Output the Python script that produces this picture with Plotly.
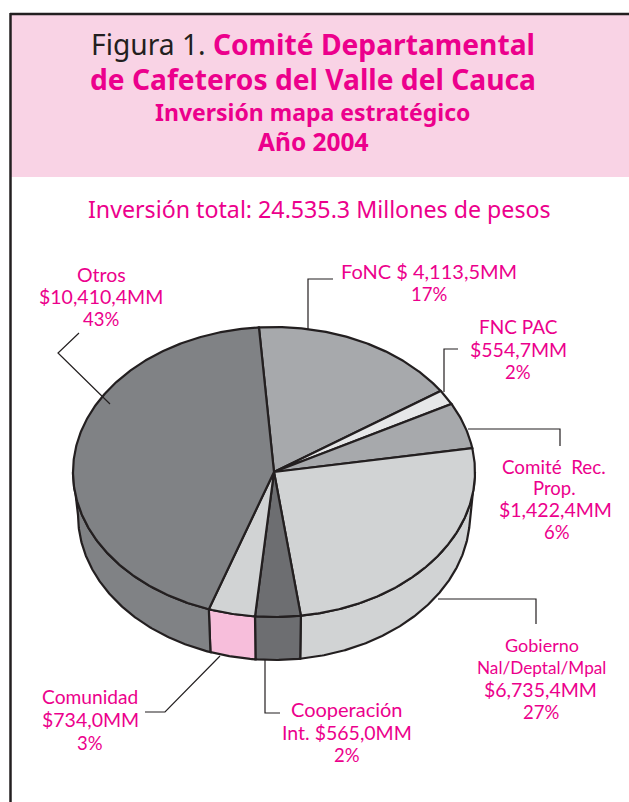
import numpy as np
import plotly.graph_objects as go

categorias = ["FoNC", "FNC PAC", "Comité Rec. Prop.", "Gobierno", "Cooperación", "Comunidad", "Otros"]
# amounts printed on the chart (millions of pesos)
valores_mm = [4113.5, 554.7, 1422.4, 6735.4, 565.0, 734.0, 10410.4]
# share of the circle each wedge occupies in the drawing (%)
porcion_dibujada = [16.75, 1.67, 5.14, 25.5, 3.64, 3.75, 43.55]
color_sup = ["#A7A9AC", "#E6E7E8", "#A7A9AC", "#D1D3D4", "#6D6E71", "#D1D3D4", "#808285"]
color_lat = ["#A7A9AC", "#E6E7E8", "#A7A9AC", "#D1D3D4", "#6D6E71", "#F7BEDB", "#808285"]

MAG = "#EC008C"
INK = "#231F20"
FT = "Noto Sans"
FL = "Lato"
CX, CY, RX, RY, DEPTH, RX_B = 274, 472, 201, 145, 43, 196
START = 94.3


def arc(a, b, dy=0.0, rx=RX):
    t = np.radians(np.linspace(a, b, max(3, int(abs(b - a) * 2))))
    return CX + rx * np.cos(t), CY + dy - RY * np.sin(t)


fig = go.Figure()
a = START
wedges = []
for p in porcion_dibujada:
    b = a - p * 3.6
    wedges.append((a, b))
    a = b

# side wall (only the front half of the cylinder is visible)
for (a, b), c in zip(wedges, color_lat):
    hi, lo = min(a, 0), max(b, -180)
    if hi <= lo:
        continue
    x1, y1 = arc(hi, lo)
    x2, y2 = arc(lo, hi, DEPTH, RX_B)
    fig.add_trace(go.Scatter(x=np.r_[x1, x2, x1[0]], y=np.r_[y1, y2, y1[0]], mode="lines", fill="toself",
                             fillcolor=c, line=dict(color=INK, width=2.2), hoverinfo="skip", showlegend=False))

# top face
for (a, b), c, name, v in zip(wedges, color_sup, categorias, valores_mm):
    x, y = arc(a, b)
    fig.add_trace(go.Scatter(x=np.r_[CX, x, CX], y=np.r_[CY, y, CY], mode="lines", fill="toself",
                             fillcolor=c, line=dict(color=INK, width=2.2), name=name,
                             text=f"{name}: {v:,.1f} MM", hoverinfo="text", showlegend=False))

# leader lines
lideres = [
    ([79, 58, 110], [333, 353, 404]),
    ([333, 308, 308], [279, 279, 329]),
    ([458, 444, 444], [349, 349, 392]),
    ([468, 560, 560], [429, 429, 446]),
    ([438, 536, 536], [599, 599, 624]),
    ([145, 165, 220], [712, 712, 656]),
    ([265, 265, 280], [660, 713, 713]),
]
for lx, ly in lideres:
    fig.add_trace(go.Scatter(x=lx, y=ly, mode="lines", line=dict(color=INK, width=1.2),
                             hoverinfo="skip", showlegend=False))

etiquetas = [
    ("Otros", 101, 274, 19.5), ("$10,410,4MM", 101, 296, 19.5), ("43%", 101, 319, 18.5),
    ("FoNC $ 4,113,5MM", 429, 271, 20), ("17%", 429, 294, 18.5),
    ("FNC PAC", 518, 326, 19), ("$554,7MM", 518, 349, 19.5), ("2%", 518, 372, 18.5),
    ("Comité  Rec.", 554, 466, 18.8), ("Prop.", 554, 488, 18.5), ("$1,422,4MM", 555, 509, 19.5), ("6%", 557, 532, 18.5),
    ("Gobierno", 542, 645, 18), ("Nal/Deptal/Mpal", 541, 667, 17.2), ("$6,735,4MM", 540, 689, 19.5), ("27%", 541, 712, 18.5),
    ("Comunidad", 90, 696, 19.2), ("$734,0MM", 90, 719, 19.5), ("3%", 90, 743, 18.5),
    ("Cooperación", 347, 709, 20), ("Int. $565,0MM", 347, 732, 19.5), ("2%", 347, 755, 18.5),
]
anns = [dict(x=x, y=y, text=t, xref="x", yref="y", showarrow=False, xanchor="center", yanchor="middle",
             font=dict(family=FL, size=s, color=MAG)) for t, x, y, s in etiquetas]

titulos = [
    (f"<span style='color:{INK}'>Figura 1. </span><b>Comité Departamental</b>", 313, 44, 28.2),
    ("<b>de Cafeteros del Valle del Cauca</b>", 313, 79, 28.2),
    ("<b>Inversión mapa estratégico</b>", 313, 112, 23),
    ("<b>Año 2004</b>", 313, 141, 24.5),
    ("Inversión total: 24.535.3 Millones de pesos", 319, 209, 23.2),
]
anns += [dict(x=x, y=y, text=t, xref="x", yref="y", showarrow=False, xanchor="center", yanchor="middle",
              font=dict(family=FT, size=s, color=MAG)) for t, x, y, s in titulos]

shapes = [
    dict(type="rect", xref="x", yref="y", x0=11, x1=629, y0=14, y1=177, fillcolor="#F9D3E5", line_width=0, layer="below"),
    dict(type="line", xref="x", yref="y", x0=10, x1=629, y0=14, y1=14, line=dict(color=INK, width=2.5)),
    dict(type="line", xref="x", yref="y", x0=10.5, x1=10.5, y0=13, y1=802, line=dict(color=INK, width=2.5)),
]

fig.update_layout(
    width=629, height=802, autosize=False, margin=dict(l=0, r=0, t=0, b=0),
    paper_bgcolor="white", plot_bgcolor="white", showlegend=False,
    xaxis=dict(range=[0, 629], visible=False, fixedrange=True),
    yaxis=dict(range=[802, 0], visible=False, fixedrange=True),
    annotations=anns, shapes=shapes,
)
fig.write_html("out.html", config={"displayModeBar": False},
               post_script="document.body.style.margin='0';document.documentElement.style.overflow='hidden';")
